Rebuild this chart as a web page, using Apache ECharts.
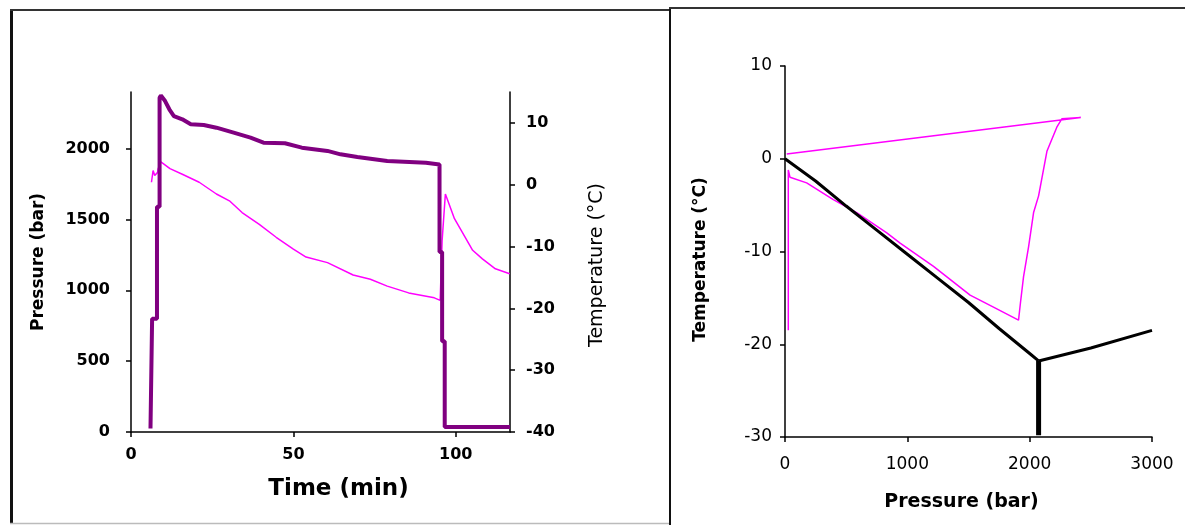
<!DOCTYPE html>
<html>
<head>
<meta charset="utf-8">
<script src="https://cdn.jsdelivr.net/npm/echarts@6/dist/echarts.min.js"></script>
<style>
  html, body { margin: 0; padding: 0; background: #fff; }
  #chart { width: 1185px; height: 525px; }
</style>
</head>
<body>
<div id="chart"></div>
<script>
// left panel: pressure and temperature against time
const pressureRun = [
  [6.0, 25], [6.5, 25], [6.5, 800], [8.0, 800], [8.0, 1590], [8.8, 1590], [8.8, 2360],
  [9.2, 2376], [10.5, 2336], [11.8, 2278], [13.2, 2230], [15.8, 2207], [18.4, 2172],
  [22.4, 2167], [26.3, 2148], [31.6, 2113], [36.8, 2078], [40.8, 2042], [47.4, 2038],
  [52.6, 2007], [60.5, 1984], [64.5, 1960], [69.7, 1941], [78.9, 1913], [90.8, 1901],
  [95.0, 1889], [95.0, 1270], [95.8, 1270], [95.8, 640], [96.6, 640], [96.6, 35], [116.7, 35]
];
const temperatureRun = [
  [6.3, 0.4], [6.8, 2.3], [7.3, 1.5], [8.2, 2.0], [8.3, 2.5], [9.2, 3.7], [12, 2.6],
  [15.8, 1.7], [21, 0.4], [26.3, -1.5], [30.3, -2.6], [34.2, -4.5], [39.5, -6.4],
  [44.7, -8.5], [50, -10.4], [53.9, -11.7], [60.5, -12.6], [68.4, -14.6], [73.7, -15.3],
  [78.9, -16.4], [85.5, -17.5], [93.4, -18.3], [95.2, -18.7], [95.8, -9], [96.8, -1.5],
  [99.6, -5.5], [104.1, -9.6], [105.2, -10.6], [108.2, -12], [112.2, -13.6], [116.6, -14.4]
];

// right panel: the same run in the pressure-temperature plane, with the melting curves
const runPath = [
  [14, 0.5], [2418, 4.45], [2263, 4.3], [2222, 3.4], [2141, 0.8], [2073, -4.0], [2032, -5.8],
  [1991, -9.5], [1950, -12.7], [1925, -15.5], [1909, -17.4], [1704, -16.0], [1513, -14.7],
  [1214, -11.6], [941, -9.1], [832, -8.0], [586, -5.8], [395, -4.4], [177, -2.6], [41, -2.0],
  [27, -1.2], [27, -18.5]
];
const iceOneMelting = [
  [0, 0], [250, -2.4], [500, -5.1], [750, -7.7], [1000, -10.3], [1250, -12.9],
  [1500, -15.5], [1750, -18.3], [2000, -21.0], [2073, -21.8]
];
const iceThreeMelting = [[2073, -21.8], [2500, -20.4], [3000, -18.5]];
const iceOneThreeBoundary = [[2073, -21.8], [2073, -29.8]];

const plain = v => String(v);
const leftTicks = { fontFamily: 'DejaVu Sans', fontWeight: 'bold', fontSize: 16, color: '#000', formatter: plain };
const rightTicks = { fontFamily: 'DejaVu Sans', fontSize: 17, color: '#000', formatter: plain };
const axisLine = { show: true, onZero: false, lineStyle: { color: '#000', width: 1.5 } };
const axisTick = { show: true, inside: false, length: 5, lineStyle: { color: '#000', width: 1.5 } };
const titleBold = { fontFamily: 'DejaVu Sans', fontWeight: 'bold', fontSize: 17, color: '#000' };

const chart = echarts.init(document.getElementById('chart'));
chart.setOption({
  animation: false,
  backgroundColor: '#fff',
  grid: [
    { left: 131, top: 92, width: 379, height: 340 },
    { left: 785, top: 66, width: 367, height: 371 }
  ],
  xAxis: [
    {
      gridIndex: 0, type: 'value', min: 0, max: 116.7, interval: 50,
      axisLine, axisTick, splitLine: { show: false },
      axisLabel: { ...leftTicks, margin: 15, showMaxLabel: false },
      name: 'Time (min)', nameLocation: 'middle', nameGap: 46,
      nameTextStyle: { ...titleBold, fontSize: 23, padding: [0, 0, 0, 36] }
    },
    {
      gridIndex: 1, type: 'value', min: 0, max: 3000, interval: 1000,
      axisLine, axisTick, splitLine: { show: false },
      axisLabel: { ...rightTicks, margin: 19 },
      name: 'Pressure (bar)', nameLocation: 'middle', nameGap: 56,
      nameTextStyle: { ...titleBold, fontSize: 19, padding: [0, 14, 0, 0] }
    }
  ],
  yAxis: [
    {
      gridIndex: 0, type: 'value', min: 0, max: 2400, interval: 500,
      axisLine, axisTick, splitLine: { show: false },
      axisLabel: { ...leftTicks, margin: 21, showMaxLabel: false },
      name: 'Pressure (bar)', nameLocation: 'middle', nameGap: 84,
      nameTextStyle: titleBold
    },
    {
      gridIndex: 0, type: 'value', position: 'right', min: -40, max: 15, interval: 10,
      axisLine, axisTick, splitLine: { show: false },
      axisLabel: { ...leftTicks, margin: 16, showMaxLabel: false },
      name: 'Temperature (°C)', nameLocation: 'middle', nameGap: 78,
      nameTextStyle: { fontFamily: 'DejaVu Sans', fontSize: 19, color: '#000', padding: [0, 6, 0, 0] }
    },
    {
      gridIndex: 1, type: 'value', min: -30, max: 10, interval: 10,
      axisLine, axisTick, splitLine: { show: false },
      axisLabel: { ...rightTicks, margin: 13 },
      name: 'Temperature (°C)', nameLocation: 'middle', nameGap: 76,
      nameTextStyle: { ...titleBold, padding: [0, 16, 0, 0] }
    }
  ],
  series: [
    {
      type: 'line', xAxisIndex: 0, yAxisIndex: 0, data: pressureRun,
      showSymbol: false, lineStyle: { color: '#800080', width: 4 }, z: 3
    },
    {
      type: 'line', xAxisIndex: 0, yAxisIndex: 1, data: temperatureRun,
      showSymbol: false, lineStyle: { color: '#ff00ff', width: 1.5 }, z: 2
    },
    {
      type: 'line', xAxisIndex: 1, yAxisIndex: 2, data: runPath,
      showSymbol: false, lineStyle: { color: '#ff00ff', width: 1.5 }, z: 2
    },
    {
      type: 'line', xAxisIndex: 1, yAxisIndex: 2, data: iceOneMelting,
      showSymbol: false, lineStyle: { color: '#000', width: 3 }, z: 3
    },
    {
      type: 'line', xAxisIndex: 1, yAxisIndex: 2, data: iceThreeMelting,
      showSymbol: false, lineStyle: { color: '#000', width: 3 }, z: 3
    },
    {
      type: 'line', xAxisIndex: 1, yAxisIndex: 2, data: iceOneThreeBoundary,
      showSymbol: false, lineStyle: { color: '#000', width: 5 }, z: 3
    }
  ],
  graphic: [
    { type: 'line', shape: { x1: 11.5, y1: 10, x2: 11.5, y2: 523 }, style: { stroke: '#111', lineWidth: 3 } },
    { type: 'line', shape: { x1: 10, y1: 10, x2: 670, y2: 10 }, style: { stroke: '#333', lineWidth: 2 } },
    { type: 'line', shape: { x1: 10, y1: 523.5, x2: 670, y2: 523.5 }, style: { stroke: '#bbb', lineWidth: 1.5 } },
    { type: 'line', shape: { x1: 670, y1: 7, x2: 670, y2: 525 }, style: { stroke: '#111', lineWidth: 2 } },
    { type: 'line', shape: { x1: 669, y1: 8, x2: 1185, y2: 8 }, style: { stroke: '#333', lineWidth: 2 } }
  ]
});
</script>
</body>
</html>
